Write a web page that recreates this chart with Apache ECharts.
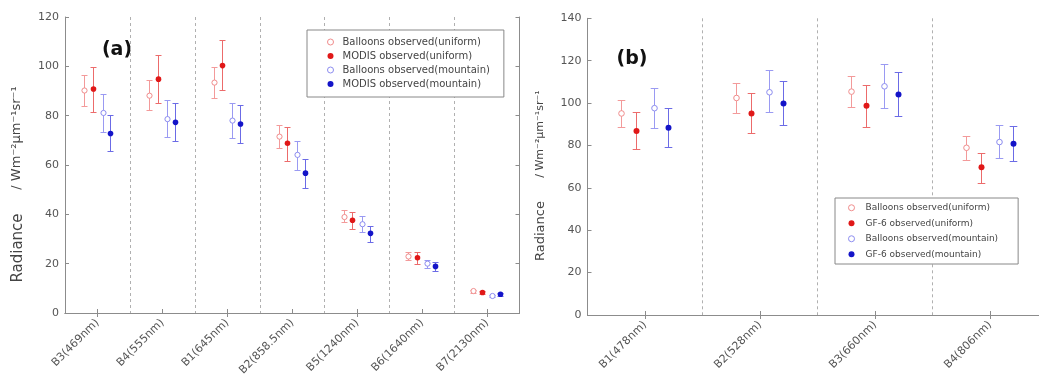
<!DOCTYPE html>
<html>
<head>
<meta charset="utf-8">
<script src="https://cdn.jsdelivr.net/npm/echarts@6/dist/echarts.min.js"></script>
<style>html,body{margin:0;padding:0;background:#fff}#c{width:1039px;height:380px}</style>
</head>
<body>
<div id="c"></div>
<script>
// ---- Data (a): MODIS bands, each entry [value, lower, upper]
const catsA = ['B3(469nm)','B4(555nm)','B1(645nm)','B2(858.5nm)','B5(1240nm)','B6(1640nm)','B7(2130nm)'];
const aBalloonUniform  = [[90.2,84.1,96.3],[88.1,82.3,94.5],[93.4,87.0,99.7],[71.5,66.7,76.3],[38.9,36.7,41.6],[22.9,21.3,24.7],[8.9,8.3,9.5]];
const aModisUniform    = [[90.8,81.6,99.9],[94.8,85.0,104.4],[100.3,90.4,110.8],[68.8,61.7,75.6],[37.6,34.0,41.0],[22.4,20.0,24.7],[8.3,7.7,8.9]];
const aBalloonMountain = [[81.1,73.5,88.8],[78.6,71.2,86.4],[78.0,70.9,85.2],[64.1,57.9,69.8],[36.0,33.0,39.3],[20.0,18.4,21.3],[6.9,6.4,7.4]];
const aModisMountain   = [[72.8,65.5,80.3],[77.3,69.6,85.0],[76.6,68.9,84.3],[56.7,50.8,62.4],[32.3,28.9,35.3],[18.9,17.0,20.7],[7.6,7.0,8.2]];
const yTicksA = {min:0, max:120, interval:20};

// ---- Data (b): GF-6 bands
const catsB = ['B1(478nm)','B2(528nm)','B3(660nm)','B4(806nm)'];
const bBalloonUniform  = [[95.1,88.6,101.6],[102.4,95.4,109.4],[105.4,98.3,112.7],[78.9,73.3,84.4]];
const bGF6Uniform      = [[86.8,78.4,95.6],[95.1,85.7,104.9],[98.7,88.7,108.7],[69.7,62.4,76.5]];
const bBalloonMountain = [[97.6,88.4,107.0],[105.1,95.6,115.6],[107.9,97.9,118.3],[81.6,74.0,89.5]];
const bGF6Mountain     = [[88.4,79.5,97.5],[99.8,89.7,110.2],[104.0,93.7,114.6],[80.8,72.7,89.2]];
const yTicksB = {min:0, max:140, interval:20};

const namesA = ['Balloons observed(uniform)','MODIS observed(uniform)','Balloons observed(mountain)','MODIS observed(mountain)'];
const namesB = ['Balloons observed(uniform)','GF-6 observed(uniform)','Balloons observed(mountain)','GF-6 observed(mountain)'];

// ---- styles
const FONT = 'DejaVu Sans';
const styles = [
  {offset:-0.21, hollow:true,  marker:'#f08c8c', bar:'#f39a9a'},
  {offset:-0.075,hollow:false, marker:'#e01818', bar:'#ec6b6b'},
  {offset:0.078, hollow:true,  marker:'#8c8cf0', bar:'#9a9af2'},
  {offset:0.2,   hollow:false, marker:'#1414c8', bar:'#6b6be6'}
];
const AXC = '#8c8c8c';

function renderFactory(st, cap, r) {
  return function (params, api) {
    const c = api.coord([api.value(0), api.value(1)]);
    const lo = api.coord([api.value(0), api.value(2)]);
    const hi = api.coord([api.value(0), api.value(3)]);
    const band = api.size([1, 0])[0];
    const x = Math.round(c[0] + st.offset * band) + 0.5;
    const yh = Math.round(hi[1]) + 0.5, yl = Math.round(lo[1]) + 0.5;
    const ls = {stroke: st.bar, lineWidth: 1};
    return {type:'group', children:[
      {type:'line', shape:{x1:x, y1:yh, x2:x, y2:yl}, style:ls},
      {type:'line', shape:{x1:x-cap, y1:yh, x2:x+cap, y2:yh}, style:ls},
      {type:'line', shape:{x1:x-cap, y1:yl, x2:x+cap, y2:yl}, style:ls},
      {type:'circle', shape:{cx:x, cy:c[1], r:r},
        style: st.hollow ? {fill:'#fff', stroke:st.marker, lineWidth:1} : {fill:st.marker}}
    ]};
  };
}

function mkSeries(name, arr, st, axIdx, cap, r) {
  return {
    type:'custom', name:name, xAxisIndex:axIdx, yAxisIndex:axIdx,
    itemStyle:{color: st.marker},
    renderItem: renderFactory(st, cap, r),
    encode:{x:0, y:[1,2,3]},
    data: arr.map((d,i) => [i, d[0], d[1], d[2]]),
    silent:true
  };
}

function xAx(cats, grid, pos) {
  const bottom = pos === 'bottom';
  return {
    type:'category', data:cats, gridIndex:grid, position:pos, boundaryGap:true,
    axisLine:{show:true, lineStyle:{color:AXC, width:1}},
    axisTick:{show:true, inside:true, alignWithLabel:true, length:4, lineStyle:{color:AXC}},
    axisLabel: bottom ? {show:true, rotate:45, margin:8, fontSize:11, fontFamily:FONT, color:'#555', interval:0} : {show:false},
    splitLine: bottom ? {show:true, showMinLine:false, showMaxLine:false, interval:0, lineStyle:{color:'#b0b0b0', type:[3,3], width:1}} : {show:false}
  };
}
function yAx(t, grid, pos) {
  const left = pos === 'left';
  return {
    type:'value', gridIndex:grid, position:pos, min:t.min, max:t.max, interval:t.interval,
    axisLine:{show:true, lineStyle:{color:AXC, width:1}},
    axisTick:{show:true, inside:true, length:4, lineStyle:{color:AXC}},
    axisLabel: left ? {show:true, margin:6, fontSize:11, fontFamily:FONT, color:'#555'} : {show:false},
    splitLine:{show:false}
  };
}

function legendData(names) {
  return names.map((n, i) => {
    const st = styles[i];
    return {name:n, icon:'circle',
      itemStyle: st.hollow ? {color:'#fff', borderColor:st.marker, borderWidth:1} : {color:st.marker, borderWidth:0}};
  });
}

const chart = echarts.init(document.getElementById('c'), null, {renderer:'canvas'});
const option = {
  animation:false,
  backgroundColor:'#fff',
  grid:[
    {left:65, top:17, width:454.5, height:296, outerBoundsMode:'none', containLabel:false},
    {left:587.5, top:18.3, width:460, height:296.7, outerBoundsMode:'none', containLabel:false}
  ],
  xAxis:[xAx(catsA,0,'bottom'), xAx(catsA,0,'top'), xAx(catsB,1,'bottom'), xAx(catsB,1,'top')],
  yAxis:[yAx(yTicksA,0,'left'), yAx(yTicksA,0,'right'), yAx(yTicksB,1,'left'), yAx(yTicksB,1,'right')],
  legend:[
    {left:307, top:30, orient:'vertical', selectedMode:false,
     padding:[5,14,6,20], itemGap:0, itemWidth:14, itemHeight:6,
     borderColor:'#888', borderWidth:1, backgroundColor:'#fff',
     textStyle:{fontFamily:FONT, fontSize:10, color:'#444', lineHeight:14},
     data:legendData(namesA)},
    {left:835, top:198, orient:'vertical', selectedMode:false,
     padding:[2,20,2,13], itemGap:0, itemWidth:18, itemHeight:6,
     borderColor:'#888', borderWidth:1, backgroundColor:'#fff',
     textStyle:{fontFamily:FONT, fontSize:9, color:'#444', lineHeight:15.5},
     data:legendData(namesB)}
  ],
  graphic:[
    {type:'text', x:117, y:50, style:{text:'(a)', font:'bold 19px "DejaVu Sans"', fill:'#111', align:'center', verticalAlign:'middle'}},
    {type:'text', x:632, y:59, style:{text:'(b)', font:'bold 19px "DejaVu Sans"', fill:'#111', align:'center', verticalAlign:'middle'}},
    {type:'text', x:18, y:248, rotation:Math.PI/2, style:{text:'Radiance', font:'15px "DejaVu Sans"', fill:'#444', align:'center', verticalAlign:'middle'}},
    {type:'text', x:17, y:138, rotation:Math.PI/2, style:{text:'/ Wm⁻²μm⁻¹sr⁻¹', font:'13px "DejaVu Sans"', fill:'#444', align:'center', verticalAlign:'middle'}},
    {type:'text', x:541, y:231, rotation:Math.PI/2, style:{text:'Radiance', font:'13px "DejaVu Sans"', fill:'#444', align:'center', verticalAlign:'middle'}},
    {type:'text', x:540, y:134, rotation:Math.PI/2, style:{text:'/ Wm⁻²μm⁻¹sr⁻¹', font:'11px "DejaVu Sans"', fill:'#444', align:'center', verticalAlign:'middle'}}
  ],
  series:[
    mkSeries(namesA[0], aBalloonUniform, styles[0], 0, 3, 2.6),
    mkSeries(namesA[1], aModisUniform, styles[1], 0, 3, 2.8),
    mkSeries(namesA[2], aBalloonMountain, styles[2], 0, 3, 2.6),
    mkSeries(namesA[3], aModisMountain, styles[3], 0, 3, 2.8),
    mkSeries(namesB[0], bBalloonUniform, styles[0], 2, 3.8, 2.8),
    mkSeries(namesB[1], bGF6Uniform, styles[1], 2, 3.8, 3),
    mkSeries(namesB[2], bBalloonMountain, styles[2], 2, 3.8, 2.8),
    mkSeries(namesB[3], bGF6Mountain, styles[3], 2, 3.8, 3)
  ]
};
chart.setOption(option);
</script>
</body>
</html>
